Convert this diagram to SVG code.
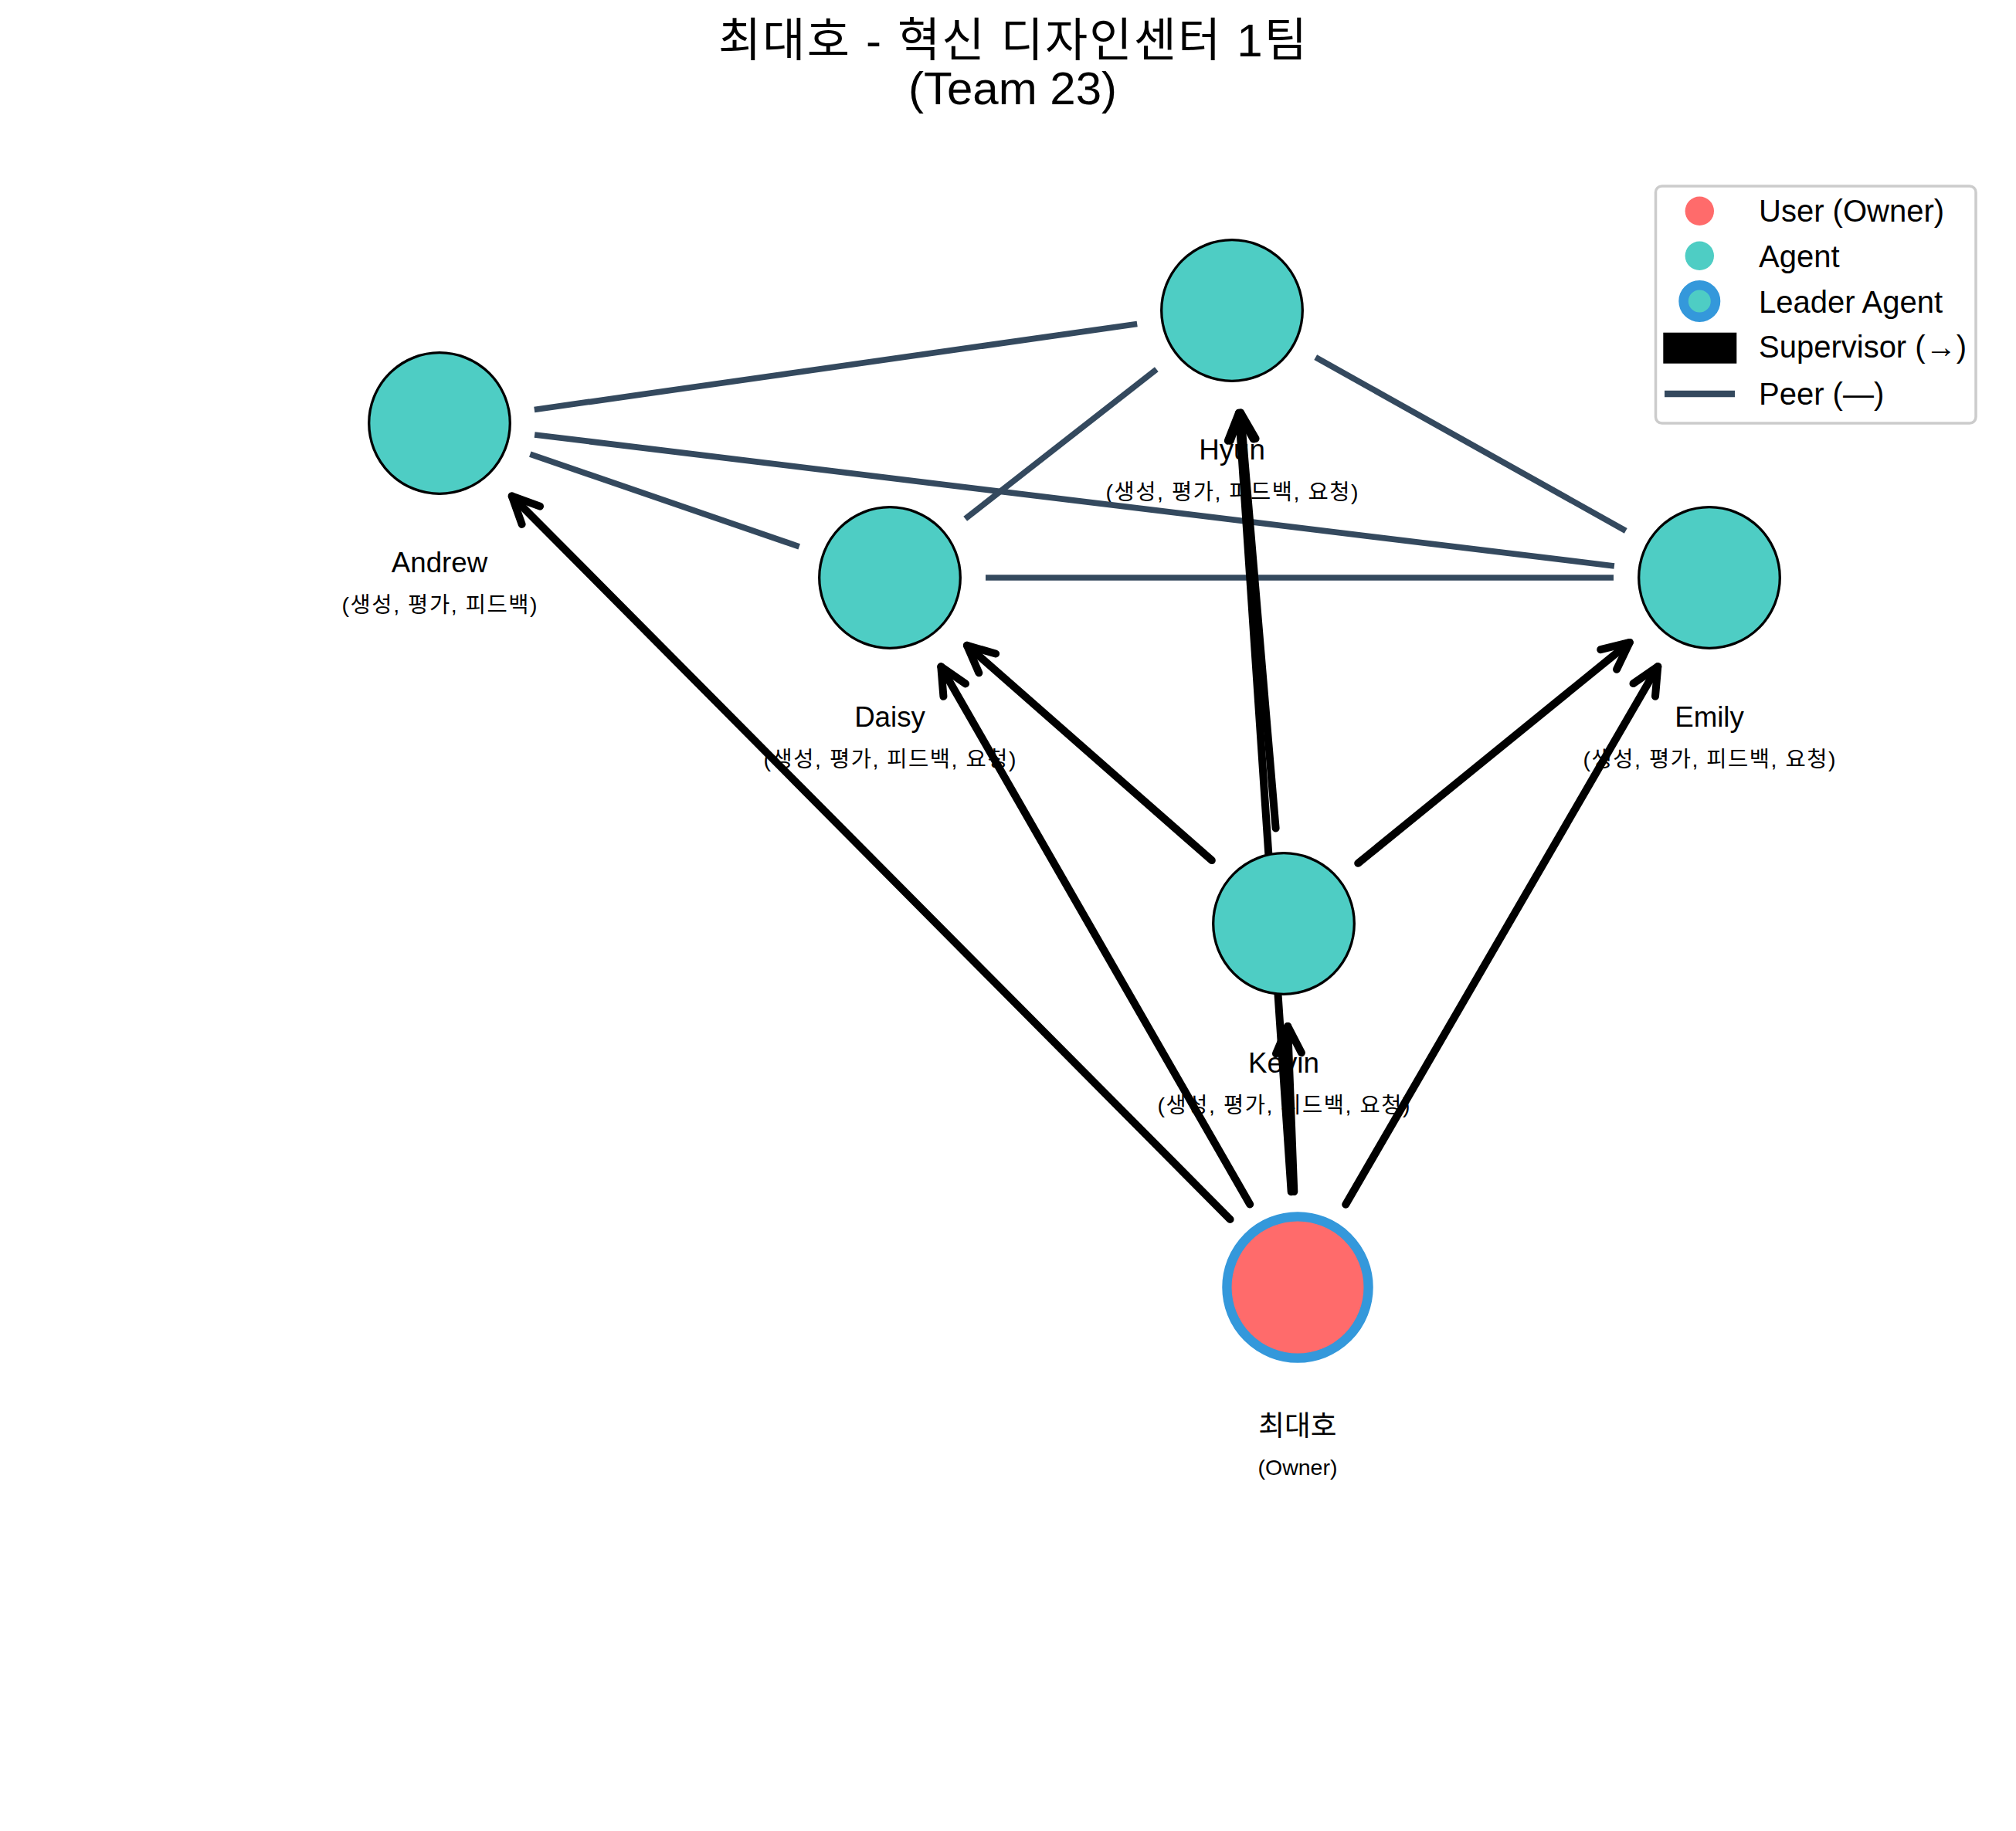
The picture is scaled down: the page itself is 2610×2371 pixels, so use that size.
<svg xmlns="http://www.w3.org/2000/svg" width="2610" height="2371" viewBox="0 0 2610 2371">
<style>
text{font-family:"Liberation Sans","Noto Sans CJK KR",Arial,sans-serif;fill:#000}
.title{font-size:60px;text-anchor:middle}
.name{font-size:36.7px;text-anchor:middle}
.sub{font-size:28.5px;text-anchor:middle}
.leg{font-size:40px}
.peer{stroke:#34495E;stroke-width:7.7;stroke-linecap:butt;fill:none}
.sup{stroke:#000;stroke-width:10;stroke-linecap:round;fill:none;marker-end:url(#ah)}
.agent{fill:#4ECDC4;stroke:#000;stroke-width:3.3}
.owner{fill:#FF6B6B;stroke:#3498DB;stroke-width:12.3}
</style>
<defs>
<marker id="ah" markerUnits="userSpaceOnUse" orient="auto" overflow="visible" markerWidth="1" markerHeight="1" refX="0" refY="0">
<path d="M-35,-16.5 L0,0 L-35,16.5" fill="none" stroke="#000" stroke-width="10" stroke-linecap="round" stroke-linejoin="round"/>
</marker>
</defs>
<rect width="2610" height="2371" fill="#fff"/>
<g id="title">
<text class="title" x="1311" y="73" textLength="762" lengthAdjust="spacing">최대호 - 혁신 디자인센터 1팀</text>
<text class="title" x="1311" y="135">(Team 23)</text>
</g>
<g id="labels">
<text class="name" x="569" y="741">Andrew</text>
<text class="sub" x="569" y="793" textLength="253" lengthAdjust="spacing">(생성, 평가, 피드백)</text>
<text class="name" x="1595" y="595">Hyun</text>
<text class="sub" x="1595" y="647" textLength="327" lengthAdjust="spacing">(생성, 평가, 피드백, 요청)</text>
<text class="name" x="1152" y="941">Daisy</text>
<text class="sub" x="1152" y="993" textLength="327" lengthAdjust="spacing">(생성, 평가, 피드백, 요청)</text>
<text class="name" x="2213" y="941">Emily</text>
<text class="sub" x="2213" y="993" textLength="327" lengthAdjust="spacing">(생성, 평가, 피드백, 요청)</text>
<text class="name" x="1662" y="1389">Kevin</text>
<text class="sub" x="1662" y="1441" textLength="327" lengthAdjust="spacing">(생성, 평가, 피드백, 요청)</text>
<text class="name" x="1680" y="1859">최대호</text>
<text class="sub" x="1680" y="1910">(Owner)</text>
</g>
<g id="connectors">
<line class="peer" x1="691.8" y1="530.5" x2="1472.2" y2="419.5"/>
<line class="peer" x1="686.3" y1="588.2" x2="1034.7" y2="707.8"/>
<line class="peer" x1="692.1" y1="563" x2="2089.9" y2="733"/>
<line class="peer" x1="1497.3" y1="478.3" x2="1249.7" y2="671.7"/>
<line class="peer" x1="1703.2" y1="462.6" x2="2104.8" y2="687.4"/>
<line class="peer" x1="1276" y1="748" x2="2089" y2="748"/>
<line class="sup" x1="1592.6" y1="1579" x2="662.7" y2="642.4"/>
<line class="sup" x1="1618.2" y1="1559.5" x2="1218.3" y2="863.3"/>
<line class="sup" x1="1742.2" y1="1559.7" x2="2146.3" y2="863.1"/>
<line class="sup" x1="1671.7" y1="1543.3" x2="1603.9" y2="534.7"/>
<line class="sup" x1="1675.3" y1="1543.1" x2="1667.1" y2="1328.9"/>
<line class="sup" x1="1651.6" y1="1072.4" x2="1606.2" y2="534.5"/>
<line class="sup" x1="1568.8" y1="1114.1" x2="1251.9" y2="835.8"/>
<line class="sup" x1="1758.2" y1="1117.8" x2="2109.8" y2="831.9"/>
</g>
<g id="node-andrew"><circle class="agent" cx="569" cy="548" r="91.3"/></g>
<g id="node-hyun"><circle class="agent" cx="1595" cy="402" r="91.3"/></g>
<g id="node-daisy"><circle class="agent" cx="1152" cy="748" r="91.3"/></g>
<g id="node-emily"><circle class="agent" cx="2213" cy="748" r="91.3"/></g>
<g id="node-kevin"><circle class="agent" cx="1662" cy="1196" r="91.3"/></g>
<g id="node-owner"><circle class="owner" cx="1680" cy="1667" r="91.6"/></g>
<g id="legend">
<rect x="2143.5" y="241" width="414.5" height="307" rx="8" fill="#fff" fill-opacity="0.8" stroke="#CCCCCC" stroke-width="3.5"/>
<circle cx="2200.3" cy="273.3" r="18.7" fill="#FF6B6B"/>
<text class="leg" x="2277" y="287">User (Owner)</text>
<circle cx="2200.3" cy="331.3" r="18.7" fill="#4ECDC4"/>
<text class="leg" x="2277" y="346">Agent</text>
<circle cx="2200.3" cy="390" r="20.75" fill="#4ECDC4" stroke="#3498DB" stroke-width="12.5"/>
<text class="leg" x="2277" y="405">Leader Agent</text>
<rect x="2153.3" y="430.7" width="95" height="40" fill="#000"/>
<text class="leg" x="2277" y="463">Supervisor (→)</text>
<line x1="2155" y1="510" x2="2246" y2="510" stroke="#34495E" stroke-width="8.3"/>
<text class="leg" x="2277" y="524">Peer (—)</text>
</g>
</svg>
